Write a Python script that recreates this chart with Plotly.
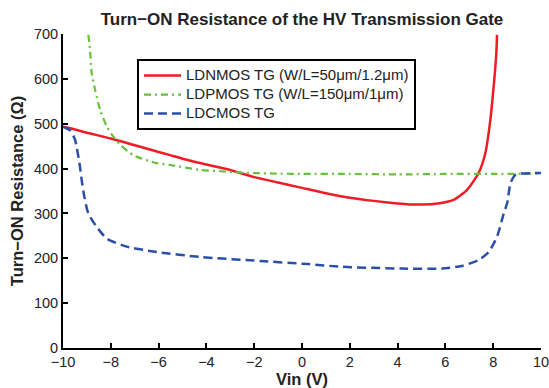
import plotly.graph_objects as go

# ---- data ----
nmos_x = [-10, -9.7, -9, -8, -7, -6, -5.52, -5, -4, -3, -2.59, -2, -1, 0, 1, 2, 3, 4, 4.5, 5, 5.5, 6, 6.34, 6.9, 7.39, 7.67, 7.88, 8.02, 8.13, 8.16]
nmos_y = [493, 490, 480, 467, 452, 437, 430, 422, 409, 397, 390, 381, 369, 357, 345, 335, 328, 322, 320, 320, 321, 325, 330, 352, 390, 434, 508, 583, 657, 698]

pmos_x = [-8.94, -8.87, -8.80, -8.66, -8.45, -8.17, -7.89, -7.61, -7.06, -6.08, -5.52, -4.26, -3.43, -2.87, -2, -1.19, 0, 2, 4, 6, 8, 10]
pmos_y = [698, 665, 613, 576, 531, 494, 471, 453, 430, 412, 408, 397, 394, 392, 390, 389, 388, 388, 387, 388, 388, 389]

cmos_x = [-10, -9.7, -9.5, -9.43, -9.29, -9.22, -9.1, -8.94, -8.59, -8.17, -7.33, -6.08, -4.26, -1.75, 0.27, 1.67, 4.18, 5.86, 6.69, 7.39, 7.81, 8.16, 8.44, 8.58, 8.72, 8.86, 8.93, 9.14, 10]
cmos_y = [493, 485, 465, 449, 404, 375, 335, 300, 270, 244, 226, 214, 203, 194, 187, 181, 177, 177, 183, 196, 214, 248, 300, 322, 367, 382, 386, 389, 390]

names = ["LDNMOS TG (W/L=50\u03bcm/1.2\u03bcm)",
         "LDPMOS TG (W/L=150\u03bcm/1\u03bcm)",
         "LDCMOS TG"]
x_ticks = [-10, -8, -6, -4, -2, 0, 2, 4, 6, 8, 10]
y_ticks = [0, 100, 200, 300, 400, 500, 600, 700]

FONT = "Liberation Sans, Arial, sans-serif"


def leg(name):
    return '<span style="font-size:15px">' + name + '</span>'


fig = go.Figure()
fig.add_trace(go.Scatter(x=nmos_x, y=nmos_y, mode="lines", name=leg(names[0]), legendgroup="a",
                         line=dict(color="#ee1c25", width=2.5, shape="spline", smoothing=0.6)))
fig.add_trace(go.Scatter(x=pmos_x, y=pmos_y, mode="lines", name=leg(names[1]), legendgroup="b",
                         line=dict(color="#66c23a", width=2.2, dash="7px,4px,2px,4px", shape="spline", smoothing=0.6)))
fig.add_trace(go.Scatter(x=cmos_x, y=cmos_y, mode="lines", name=leg(names[2]), legendgroup="c",
                         line=dict(color="#2b4ea8", width=2.5, dash="9px,5px", shape="spline", smoothing=0.6)))

fig.update_layout(
    width=549, height=388,
    margin=dict(l=63, r=8, t=34, b=40),
    paper_bgcolor="white", plot_bgcolor="white",
    font=dict(family=FONT, size=14.5, color="#222222"),
    title=dict(text="<b>Turn\u2212ON Resistance of the HV Transmission Gate</b>",
               x=0.5, xref="paper", xanchor="center", y=0.952, yanchor="middle",
               font=dict(size=17, color="#222222")),
    showlegend=True,
    legend=dict(x=0.1548, y=0.92, xanchor="left", yanchor="top",
                bgcolor="white", bordercolor="black", borderwidth=2,
                font=dict(size=12, color="#222222"), tracegroupgap=0, itemwidth=37),
    xaxis=dict(range=[-10, 10], tickvals=x_ticks, ticktext=[str(v).replace("-", "\u2212") for v in x_ticks],
               automargin=False, ticklabeloverflow="allow",
               showgrid=False, zeroline=False, showline=True, linecolor="black", linewidth=2,
               ticks="inside", ticklen=5, tickwidth=2, tickcolor="black",
               title=dict(text="<b>Vin (V)</b>", font=dict(size=16.5), standoff=1)),
    yaxis=dict(range=[0, 700], tickvals=y_ticks, showgrid=False, zeroline=False, automargin=False,
               ticklabeloverflow="allow",
               showline=True, linecolor="black", linewidth=2,
               ticks="inside", ticklen=5, tickwidth=2, tickcolor="black",
               title=dict(text="<b>Turn\u2212ON Resistance (\u03a9)</b>", font=dict(size=16.5), standoff=6)),
)

fig.write_html("out.html")
